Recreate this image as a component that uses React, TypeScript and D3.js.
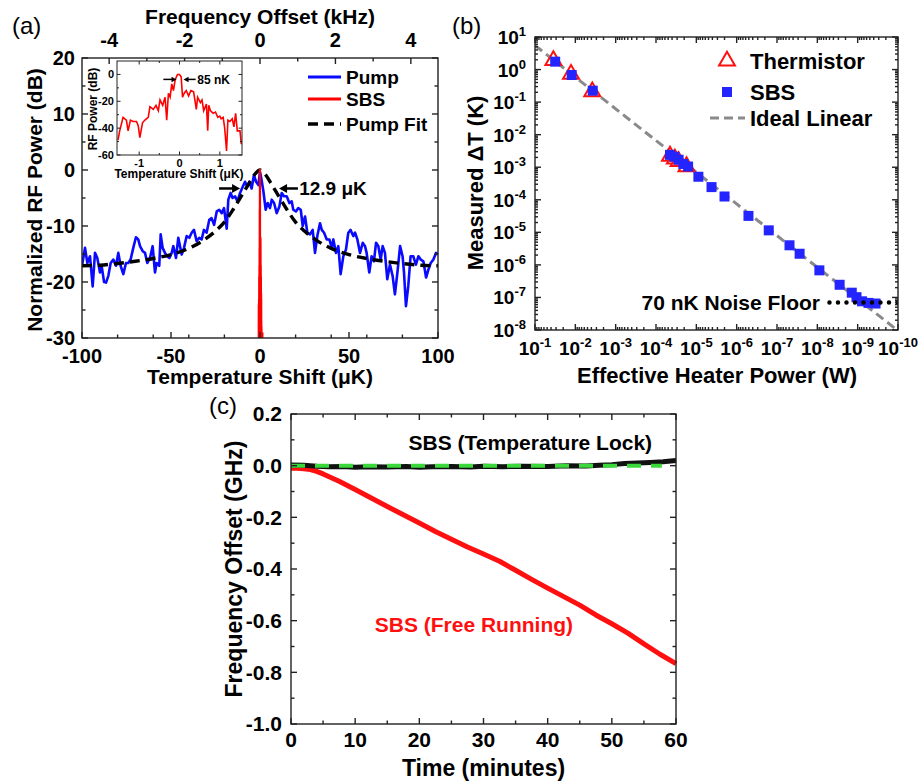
import React from "react";
import * as d3 from "d3";

const FONT = "'Liberation Sans', Arial, Helvetica, sans-serif";

// ---------- (a) pump spectrum vs temperature shift (uK, dB) ----------
const pump: [number, number][] = [
  [-100, -17.1], [-98.3, -13.9], [-97, -16.6], [-95.5, -15.4], [-94, -20.8], [-92.7, -14.8],
  [-91.4, -15.7], [-89.9, -18.3], [-89, -17.1], [-87.6, -20], [-86.5, -20.1], [-85.2, -18.9],
  [-83.9, -16.6], [-82.4, -16], [-80.9, -17.1], [-79.6, -14.8], [-78.3, -17.1], [-76.8, -18.6],
  [-75.3, -16.6], [-74, -16.6], [-72.7, -16], [-71.2, -13.9], [-69.7, -12], [-68.4, -12.4],
  [-67.4, -13.6], [-65.9, -14.5], [-64.6, -14.8], [-63.3, -16.6], [-61.8, -15.7], [-60.3, -13.6],
  [-59, -18.3], [-58.1, -16.6], [-56.6, -17.1], [-55.8, -11.5], [-54.7, -13.9], [-53.4, -14.8],
  [-52.1, -15.4], [-50.9, -15.7], [-49.6, -14.8], [-48.7, -13.6], [-47.2, -15.7], [-45.9, -12.1],
  [-44, -15.1], [-42.7, -13.9], [-41.2, -11.8], [-39.7, -12.1], [-38.4, -11.2], [-37.1, -10.7],
  [-35.6, -12.7], [-34.1, -12.1], [-32.8, -12.4], [-31.5, -10.7], [-30, -11.2], [-28.5, -8.9],
  [-27.2, -8.6], [-25.8, -9.8], [-24.3, -7.4], [-22.9, -7.1], [-21.5, -7.7], [-20.2, -6.8],
  [-18.7, -10.5], [-17.8, -5.3], [-16.5, -4.1], [-15.4, -5], [-14, -4.7], [-12.7, -5.6],
  [-11.2, -4.1], [-9.7, -3], [-8.4, -2.1], [-7.1, -3], [-6, -2.1], [-4.7, -3.3], [-3.4, -0.9],
  [-2.2, -2.1], [-0.9, -2.7], [0, -0.3], [0.9, -1.8], [1.9, -3.8], [3.2, -7.1], [4.3, -5.9],
  [5.6, -6.8], [6.6, -5.3], [7.9, -5.9], [9.4, -7.7], [10.9, -6.5], [12.2, -4.1], [13.5, -4.7],
  [15, -4.7], [16.5, -5.9], [17.8, -5.6], [18.7, -7.1], [20.2, -7.4], [21.5, -6.8], [22.9, -7.1],
  [24, -10], [25.3, -8.3], [26.6, -11.2], [28.1, -11.5], [29.6, -10.7], [30.9, -14.8],
  [32.2, -11.8], [33.7, -9.5], [34.7, -10.7], [36, -11.2], [37.5, -12.4], [39, -12.4],
  [40.3, -13.9], [41.2, -12.4], [42.7, -14.8], [44, -13.6], [45.3, -18.6], [46.8, -15.4],
  [48.3, -14.2], [49.6, -11.2], [50.9, -10.7], [52.4, -11.8], [53.4, -11.2], [54.7, -12.4],
  [56.2, -14.8], [57.7, -13], [59, -13.6], [59.9, -14.8], [61.4, -18.3], [62.7, -15.4],
  [64, -16.3], [65.2, -13], [66.5, -13.6], [67.8, -16], [68.9, -13.6], [70.2, -14.8],
  [71.5, -19.5], [73, -16.9], [74.5, -18.9], [75.8, -22.2], [77.2, -18.3], [78.7, -13.6],
  [80.1, -15.4], [80.9, -18.3], [82, -24.3], [83.3, -20.7], [84.6, -15.4], [86.1, -15.4],
  [87.6, -16.9], [89, -15.4], [90.3, -16], [91.8, -16.3], [93.3, -19.2], [94.6, -17.8],
  [95.9, -16.6], [97.4, -16], [98.9, -14.8], [100, -15.1],
];

const pumpFit: [number, number][] = [
  [-100, -17.1], [-90, -17], [-80, -16.7], [-70, -16.3], [-60, -15.8], [-50, -15.1], [-40, -14],
  [-32, -12.6], [-25, -10.9], [-20, -9.3], [-15, -7], [-10, -4.4], [-6, -2.3], [-3, -0.8], [0, 0],
  [3, -0.8], [6, -2.3], [10, -4.4], [15, -7], [20, -9.3], [25, -10.9], [32, -12.6], [40, -14],
  [50, -15.1], [60, -15.8], [70, -16.3], [80, -16.7], [90, -17], [100, -17.1],
];

// SBS spectrum (inset, also the narrow spike in the main plot)
const sbsSpectrum: [number, number][] = [
  [-1.525, -49], [-1.483, -42], [-1.4, -32], [-1.317, -34], [-1.275, -42], [-1.217, -34],
  [-1.15, -35], [-1.067, -35], [-1.025, -38], [-0.983, -47], [-0.917, -36], [-0.858, -34],
  [-0.775, -32], [-0.733, -24], [-0.65, -26], [-0.583, -23], [-0.525, -27], [-0.483, -19],
  [-0.417, -23], [-0.358, -17], [-0.317, -34], [-0.275, -14], [-0.233, -17], [-0.192, -7],
  [-0.15, -12], [-0.108, -4], [-0.05, 0], [0, 0], [0.042, -2], [0.075, -17], [0.117, -14],
  [0.167, -12], [0.225, -16], [0.283, -12], [0.35, -13], [0.417, -26], [0.45, -17], [0.517, -21],
  [0.558, -19], [0.6, -27], [0.667, -22], [0.7, -42], [0.725, -23], [0.767, -27], [0.833, -29],
  [0.892, -28], [0.95, -32], [1.0, -31], [1.033, -33], [1.083, -32], [1.117, -39], [1.167, -57],
  [1.2, -34], [1.25, -35], [1.308, -33], [1.35, -39], [1.392, -29], [1.433, -42], [1.5, -42],
  [1.533, -52],
];
const legendA = ["Pump", "SBS", "Pump Fit"];

// ---------- (b) measured dT vs heater power ----------
const thermistor: [number, number][] = [
  [0.035, 1.9], [0.0128, 0.72], [0.0038, 0.21], [4.5e-5, 2.2e-3], [3.4e-5, 1.8e-3],
  [2.75e-5, 1.5e-3], [1.75e-5, 1.05e-3],
];
const sbsPoints: [number, number][] = [
  [0.0316, 1.75], [0.0123, 0.68], [0.0037, 0.225], [4.5e-5, 2.4e-3], [3.5e-5, 2.1e-3],
  [2.75e-5, 1.7e-3], [2.1e-5, 1.26e-3], [1.6e-5, 1.05e-3], [8.9e-6, 5.1e-4], [4.2e-6, 2.45e-4],
  [2.0e-6, 1.26e-4], [5.1e-7, 3.2e-5], [1.6e-7, 1.15e-5], [4.9e-8, 4.0e-6], [2.75e-8, 2.2e-6],
  [8.9e-9, 6.8e-7], [2.8e-9, 2.45e-7], [1.4e-9, 1.4e-7], [1.07e-9, 1.02e-7], [7.8e-10, 7.6e-8],
  [5.4e-10, 6.8e-8], [3.6e-10, 6.5e-8],
];
const idealLinear: [number, number][] = [[1e-1, 5.5], [1e-10, 9.5e-9]];
const noiseFloor: [number, number][] = [[5e-9, 7e-8], [1e-10, 7e-8]];
const legendB = ["Thermistor", "SBS", "Ideal Linear"];

// ---------- (c) frequency drift vs time ----------
const freeRunning: [number, number][] = [
  [0, -0.01], [1, -0.01], [2, -0.012], [3, -0.015], [4, -0.022], [5, -0.032], [7.5, -0.06],
  [10, -0.092], [12.5, -0.125], [15, -0.158], [17.5, -0.19], [20, -0.222], [22.5, -0.255],
  [25, -0.285], [27.5, -0.315], [30, -0.342], [32.5, -0.37], [35, -0.405], [37.5, -0.44],
  [40, -0.474], [42.5, -0.507], [45, -0.54], [47.5, -0.578], [50, -0.612], [52.5, -0.648],
  [55, -0.69], [57.5, -0.73], [60, -0.766],
];
const tempLock: [number, number][] = [
  [0, 0.003], [2, 0.002], [4, -0.002], [6, -0.004], [8, -0.003], [10, -0.006], [12, -0.004],
  [15, -0.005], [18, -0.003], [20, -0.006], [22, -0.004], [25, -0.003], [28, -0.005], [30, -0.002],
  [33, -0.004], [36, -0.002], [40, -0.003], [43, 0], [46, -0.001], [48, 0.002], [50, 0.004],
  [52, 0.008], [54, 0.01], [56, 0.012], [58, 0.015], [60, 0.02],
];
const lockTarget: [number, number][] = [[0, 0], [57.8, 0]];

type Sc = (v: number) => number;

function Frame({ xs, ys, xMajor, xMinor, yMajor, yMinor, topMajor, topMinor, topScale, maj = 6, mn = 3.5, sw = 1.4 }: {
  xs: any; ys: any; xMajor: number[]; xMinor: number[]; yMajor: number[]; yMinor: number[];
  topMajor?: number[]; topMinor?: number[]; topScale?: Sc; maj?: number; mn?: number; sw?: number;
}) {
  const [x0, x1] = xs.range();
  const [y0, y1] = ys.range();
  const segs: [number, number, number, number][] = [];
  const tops = topScale ? topMajor! : xMajor;
  const topsMinor = topScale ? topMinor! : xMinor;
  const ts: Sc = topScale ?? xs;
  xMajor.forEach(v => segs.push([xs(v), y0, xs(v), y0 - maj]));
  xMinor.forEach(v => segs.push([xs(v), y0, xs(v), y0 - mn]));
  tops.forEach(v => segs.push([ts(v), y1, ts(v), y1 + maj]));
  topsMinor.forEach(v => segs.push([ts(v), y1, ts(v), y1 + mn]));
  yMajor.forEach(v => { segs.push([x0, ys(v), x0 + maj, ys(v)]); segs.push([x1, ys(v), x1 - maj, ys(v)]); });
  yMinor.forEach(v => { segs.push([x0, ys(v), x0 + mn, ys(v)]); segs.push([x1, ys(v), x1 - mn, ys(v)]); });
  return (
    <g stroke="#222" strokeWidth={sw} fill="none">
      {segs.map((s, i) => <line key={i} x1={s[0]} y1={s[1]} x2={s[2]} y2={s[3]} />)}
      <rect x={x0} y={y1} width={x1 - x0} height={y0 - y1} />
    </g>
  );
}

function Arrow({ x1, y1, x2, y2, head = 8, w = 2.5 }: { x1: number; y1: number; x2: number; y2: number; head?: number; w?: number }) {
  const dir = Math.sign(x2 - x1);
  return (
    <g>
      <line x1={x1} y1={y1} x2={x2 - dir * head * 0.8} y2={y2} stroke="#000" strokeWidth={w} />
      <path d={`M${x2},${y2} L${x2 - dir * head},${y2 - head * 0.55} L${x2 - dir * head},${y2 + head * 0.55} Z`} fill="#000" />
    </g>
  );
}

function PanelA() {
  const x = d3.scaleLinear().domain([-100, 100]).range([82, 438]);
  const y = d3.scaleLinear().domain([-30, 20]).range([338, 58]);
  const kHz = d3.scaleLinear().domain([-4.72, 4.72]).range([82, 438]);
  const ix = d3.scaleLinear().domain([-1.55, 1.55]).range([117, 242]);
  const iy = d3.scaleLinear().domain([-60, 10]).range([155, 61]);
  const line = d3.line<[number, number]>().x(d => x(d[0])).y(d => y(d[1]));
  const fit = d3.line<[number, number]>().x(d => x(d[0])).y(d => y(d[1])).curve(d3.curveMonotoneX);
  const inset = d3.line<[number, number]>().x(d => ix(d[0])).y(d => iy(d[1]));
  const [x0, x1] = x.range();
  const [y0, y1] = y.range();
  const xMaj = x.ticks(4), yMaj = y.ticks(5);
  const xMin = x.ticks(8).filter(v => !xMaj.includes(v));
  const yMin = y.ticks(10).filter(v => !yMaj.includes(v));
  const kMaj = [-4, -2, 0, 2, 4], kMin = [-3, -1, 1, 3];
  const ixMaj = [-1, 0, 1], iyMaj = [0, -20, -40, -60];
  const lx = 308;
  return (
    <g fontFamily={FONT} fontWeight="bold">
      <defs>
        <clipPath id="clipA"><rect x={x0} y={y1} width={x1 - x0} height={y0 - y1} /></clipPath>
      </defs>
      <text x={12} y={34} fontSize={24} fontWeight="normal">(a)</text>
      <g clipPath="url(#clipA)">
        <path d={line(pump)!} fill="none" stroke="#0a0aff" strokeWidth={2.6} strokeLinejoin="round" />
        <path d={fit(pumpFit)!} fill="none" stroke="#000" strokeWidth={3.4} strokeDasharray="10 6" />
        <path d={line(sbsSpectrum)!} fill="#ff0000" stroke="#ff0000" strokeWidth={2} />
      </g>
      <Frame xs={x} ys={y} xMajor={xMaj} xMinor={xMin} yMajor={yMaj} yMinor={yMin}
        topScale={kHz} topMajor={kMaj} topMinor={kMin} />
      {yMaj.map(v => <text key={v} x={x0 - 7} y={y(v)} dy="0.35em" textAnchor="end" fontSize={20}>{v}</text>)}
      {xMaj.map(v => <text key={v} x={x(v)} y={y0 + 18} dy="0.35em" textAnchor="middle" fontSize={20}>{v}</text>)}
      {kMaj.map(v => <text key={v} x={kHz(v)} y={y1 - 18} dy="0.35em" textAnchor="middle" fontSize={20}>{v}</text>)}
      <text x={(x0 + x1) / 2} y={17} dy="0.35em" textAnchor="middle" fontSize={21}>Frequency Offset (kHz)</text>
      <text x={(x0 + x1) / 2} y={377} dy="0.35em" textAnchor="middle" fontSize={21}>Temperature Shift (μK)</text>
      <text transform="translate(35,200) rotate(-90)" textAnchor="middle" dy="0.35em" fontSize={21}>Normalized RF Power (dB)</text>

      <Arrow x1={x(-23)} y1={y(-3.3)} x2={x(-11.2)} y2={y(-3.3)} />
      <Arrow x1={x(21.3)} y1={y(-3.3)} x2={x(10.7)} y2={y(-3.3)} />
      <text x={x(22)} y={y(-3.3)} dy="0.35em" fontSize={19}>12.9 μK</text>

      {legendA.map((name, i) => {
        const ly = [77, 99, 124][i];
        return (
          <g key={name}>
            <line x1={lx} x2={lx + 33} y1={ly} y2={ly}
              stroke={["#0a0aff", "#ff0000", "#000"][i]} strokeWidth={i === 2 ? 3.4 : 3}
              strokeDasharray={i === 2 ? "10 6" : undefined} />
            <text x={lx + 38} y={ly} dy="0.35em" fontSize={19}>{name}</text>
          </g>
        );
      })}

      {/* inset */}
      <rect x={117} y={61} width={125} height={94} fill="#fff" />
      <path d={inset(sbsSpectrum)!} fill="none" stroke="#ff0000" strokeWidth={1.6} />
      <Frame xs={ix} ys={iy} xMajor={ixMaj} xMinor={[-0.5, 0.5]} yMajor={iyMaj} yMinor={[-10, -30, -50]}
        maj={3.5} mn={2} sw={1} />
      {iyMaj.map(v => <text key={v} x={114} y={iy(v)} dy="0.35em" textAnchor="end" fontSize={11}>{v}</text>)}
      {ixMaj.map(v => <text key={v} x={ix(v)} y={163} dy="0.35em" textAnchor="middle" fontSize={11}>{v}</text>)}
      <text x={179} y={174} dy="0.35em" textAnchor="middle" fontSize={12}>Temperature Shift (μK)</text>
      <text transform="translate(93,109) rotate(-90)" textAnchor="middle" dy="0.35em" fontSize={12}>RF Power (dB)</text>
      <Arrow x1={ix(-0.4)} y1={iy(-3.7)} x2={ix(-0.075)} y2={iy(-3.7)} head={5} w={1.5} />
      <Arrow x1={ix(0.4)} y1={iy(-3.7)} x2={ix(0.1)} y2={iy(-3.7)} head={5} w={1.5} />
      <text x={ix(0.44)} y={iy(-3.7)} dy="0.35em" fontSize={12}>85 nK</text>
    </g>
  );
}

function Pow({ x, y, e, anchor }: { x: number; y: number; e: number; anchor: string }) {
  return (
    <text x={x} y={y} textAnchor={anchor} fontSize={19}>
      10<tspan dy={-8} fontSize={13}>{e}</tspan>
    </text>
  );
}

function PanelB() {
  const x = d3.scaleLog().domain([1e-1, 1e-10]).range([535, 898]);
  const y = d3.scaleLog().domain([1e-8, 1e1]).range([330, 37]);
  const [x0, x1] = x.range();
  const [y0, y1] = y.range();
  const xDec = d3.range(-1, -11, -1);
  const yDec = d3.range(-8, 2);
  const xMin = d3.range(-10, -1).flatMap(e => d3.range(2, 10).map(k => k * 10 ** e));
  const yMin = d3.range(-8, 1).flatMap(e => d3.range(2, 10).map(k => k * 10 ** e));
  const line = d3.line<[number, number]>().x(d => x(d[0])).y(d => y(d[1]));
  const tri = d3.symbol(d3.symbolTriangle, 110)()!;
  const sq = 10;
  return (
    <g fontFamily={FONT} fontWeight="bold">
      <defs>
        <clipPath id="clipB"><rect x={x0} y={y1} width={x1 - x0} height={y0 - y1} /></clipPath>
      </defs>
      <text x={452} y={34} fontSize={24} fontWeight="normal">(b)</text>
      <g clipPath="url(#clipB)">
        <path d={line(idealLinear)!} stroke="#8a8a8a" strokeWidth={3} strokeDasharray="9 5" fill="none" />
        {thermistor.map((d, i) => (
          <path key={i} d={tri} transform={`translate(${x(d[0])},${y(d[1])})`} fill="none" stroke="#ff1010" strokeWidth={2} />
        ))}
        {sbsPoints.map((d, i) => (
          <rect key={i} x={x(d[0]) - sq / 2} y={y(d[1]) - sq / 2} width={sq} height={sq} fill="#2424ff" />
        ))}
        <path d={line(noiseFloor)!} stroke="#000" strokeWidth={4.5} strokeDasharray="0 8.5" strokeLinecap="round" fill="none" />
      </g>
      <Frame xs={x} ys={y} xMajor={xDec.map(e => 10 ** e)} xMinor={xMin}
        yMajor={yDec.map(e => 10 ** e)} yMinor={yMin} maj={6} mn={3} />
      {yDec.map(e => <Pow key={e} x={x0 - 9} y={y(10 ** e) + 7} e={e} anchor="end" />)}
      {xDec.map(e => <Pow key={e} x={x(10 ** e)} y={y0 + 25} e={e} anchor="middle" />)}
      <text x={717} y={375} dy="0.35em" textAnchor="middle" fontSize={22}>Effective Heater Power (W)</text>
      <text transform="translate(475,183) rotate(-90)" textAnchor="middle" dy="0.35em" fontSize={22}>Measured ΔT (K)</text>
      <text x={820} y={y(7e-8)} dy="0.35em" textAnchor="end" fontSize={21}>70 nK Noise Floor</text>

      {legendB.map((name, i) => {
        const ly = [61, 92, 118][i];
        return (
          <g key={name}>
            {i === 0 && <path d={tri} transform={`translate(727,${ly})`} fill="none" stroke="#ff1010" strokeWidth={2} />}
            {i === 1 && <rect x={727 - sq / 2} y={ly - sq / 2} width={sq} height={sq} fill="#2424ff" />}
            {i === 2 && <line x1={710} x2={745} y1={ly} y2={ly} stroke="#8a8a8a" strokeWidth={3} strokeDasharray="9 5" />}
            <text x={750} y={ly} dy="0.35em" fontSize={22}>{name}</text>
          </g>
        );
      })}
    </g>
  );
}

function PanelC() {
  const x = d3.scaleLinear().domain([0, 60]).range([291, 676]);
  const y = d3.scaleLinear().domain([-1, 0.2]).range([724, 414]);
  const [x0, x1] = x.range();
  const [y0, y1] = y.range();
  const xMaj = x.ticks(6), yMaj = y.ticks(6);
  const xMin = x.ticks(12).filter(v => !xMaj.includes(v));
  const yMin = y.ticks(12).filter(v => !yMaj.some(m => Math.abs(m - v) < 1e-9));
  const line = d3.line<[number, number]>().x(d => x(d[0])).y(d => y(d[1]));
  const fmt = (v: number) => (Math.abs(v) < 1e-9 ? "0.0" : v.toFixed(1));
  return (
    <g fontFamily={FONT} fontWeight="bold">
      <text x={209} y={414} fontSize={24} fontWeight="normal">(c)</text>
      <path d={line(freeRunning)!} fill="none" stroke="#ff1010" strokeWidth={5} strokeLinejoin="round" />
      <path d={line(tempLock)!} fill="none" stroke="#111" strokeWidth={5} strokeLinejoin="round" />
      <path d={line(lockTarget)!} fill="none" stroke="#3ad83a" strokeWidth={4} strokeDasharray="14 10" />
      <Frame xs={x} ys={y} xMajor={xMaj} xMinor={xMin} yMajor={yMaj} yMinor={yMin} />
      {yMaj.map(v => <text key={v} x={x0 - 9} y={y(v)} dy="0.35em" textAnchor="end" fontSize={21}>{fmt(v)}</text>)}
      {xMaj.map(v => <text key={v} x={x(v)} y={y0 + 16} dy="0.35em" textAnchor="middle" fontSize={21}>{v}</text>)}
      <text x={(x0 + x1) / 2} y={768} dy="0.35em" textAnchor="middle" fontSize={23}>Time (minutes)</text>
      <text transform={`translate(234,${(y0 + y1) / 2}) rotate(-90)`} textAnchor="middle" dy="0.35em" fontSize={23}>Frequency Offset (GHz)</text>
      <text x={x(37.3)} y={y(0.088)} dy="0.35em" textAnchor="middle" fontSize={21}>SBS (Temperature Lock)</text>
      <text x={x(28.5)} y={y(-0.617)} dy="0.35em" textAnchor="middle" fontSize={21} fill="#ff1010">SBS (Free Running)</text>
    </g>
  );
}

export default function App() {
  return (
    <svg width={922} height={782} style={{ position: "absolute", left: 0, top: 0 }}>
      <rect width={922} height={782} fill="#fff" />
      <PanelA />
      <PanelB />
      <PanelC />
    </svg>
  );
}
